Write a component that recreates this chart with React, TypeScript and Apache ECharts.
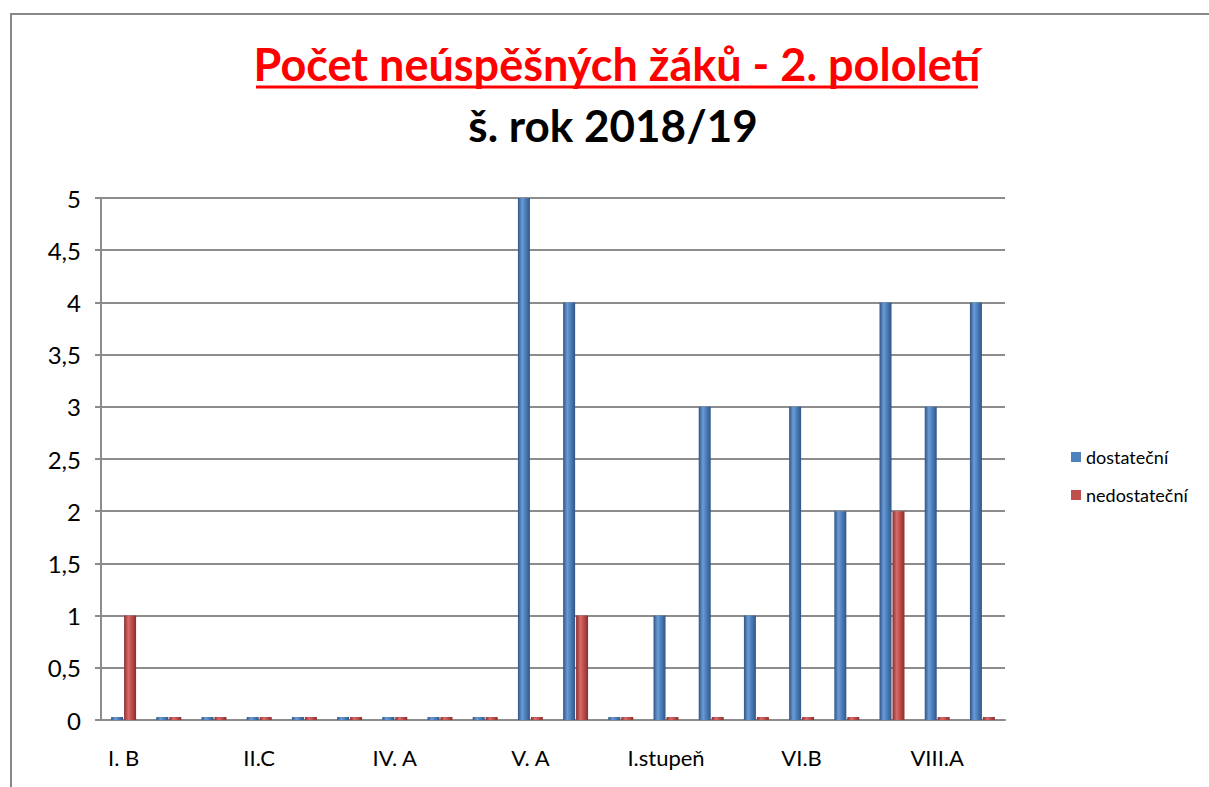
import React, { useEffect, useRef } from "react";
import * as echarts from "echarts";

const categories = [
  "I. B", "II. A", "II. B", "II.C", "III. A", "III. B", "IV. A", "IV. B", "IV. C", "V. A",
  "V. B", "V. C", "I.stupeň", "VI.A", "VI.C", "VI.B", "VII.A", "VII.B", "VIII.A", "VIII.B",
];
const dostatecni = [0, 0, 0, 0, 0, 0, 0, 0, 0, 5, 4, 0, 1, 3, 1, 3, 2, 4, 3, 4];
const nedostatecni = [1, 0, 0, 0, 0, 0, 0, 0, 0, 0, 1, 0, 0, 0, 0, 0, 0, 2, 0, 0];
const titleText = "Počet neúspěšných žáků - 2. pololetí";
const subtitleText = "š. rok 2018/19";

const FONT = "Lato, 'Open Sans', sans-serif";

function cyl(mid: string, dark: string, light: string) {
  return new echarts.graphic.LinearGradient(0, 0, 1, 0, [
    { offset: 0, color: dark },
    { offset: 0.35, color: light },
    { offset: 0.6, color: mid },
    { offset: 1, color: dark },
  ]);
}

export default function App() {
  const ref = useRef<HTMLDivElement>(null);
  useEffect(() => {
    document.body.style.margin = "0";
    const chart = echarts.init(ref.current!, null, { renderer: "svg" });
    chart.setOption({
      animation: false,
      backgroundColor: "#ffffff",
      title: [
        {
          text: titleText,
          left: 612,
          textAlign: "center",
          top: 36,
          textStyle: { color: "#ff0000", fontSize: 45, fontWeight: "bold", fontFamily: FONT },
        },
        {
          text: subtitleText,
          left: 608,
          textAlign: "center",
          top: 98,
          textStyle: { color: "#000000", fontSize: 44, fontWeight: "bold", fontFamily: FONT },
        },
      ],
      graphic: [
        {
          type: "rect",
          shape: { x: 11, y: 14, width: 1300, height: 900 },
          style: { fill: "none", stroke: "#888888", lineWidth: 2 },
          silent: true,
        },
        {
          type: "line",
          shape: { x1: 256, y1: 87, x2: 978, y2: 87 },
          style: { stroke: "#ff0000", lineWidth: 3 },
          silent: true,
        },
      ],
      legend: {
        orient: "vertical",
        left: 1066,
        top: 443,
        itemWidth: 10,
        itemHeight: 10,
        itemGap: 20,
        icon: "rect",
        textStyle: { fontSize: 18, fontFamily: FONT, color: "#000" },
        data: [
          { name: "dostateční", itemStyle: { color: "#4f81bd" } },
          { name: "nedostateční", itemStyle: { color: "#c0504d" } },
        ],
      },
      grid: { left: 101, right: 204, top: 198, bottom: 67 },
      xAxis: {
        type: "category",
        data: categories,
        axisLine: { lineStyle: { color: "#8c8c8c", width: 2 } },
        axisTick: { show: false },
        axisLabel: { interval: 2, fontSize: 22, fontFamily: FONT, color: "#000", margin: 26 },
      },
      yAxis: {
        type: "value",
        min: 0,
        max: 5,
        interval: 0.5,
        axisLine: { show: true, lineStyle: { color: "#8c8c8c", width: 2 } },
        axisTick: { show: true, length: 6, lineStyle: { color: "#8c8c8c", width: 2 } },
        splitLine: { lineStyle: { color: "#8c8c8c", width: 2 } },
        axisLabel: {
          fontSize: 24,
          fontFamily: FONT,
          color: "#000",
          margin: 20,
          formatter: (v: number) => String(v).replace(".", ","),
        },
      },
      series: [
        {
          name: "dostateční",
          type: "bar",
          data: dostatecni,
          barWidth: 12,
          barGap: "8%",
          barMinHeight: 3,
          itemStyle: { color: cyl("#4f81bd", "#2f5587", "#6b9bd6") },
        },
        {
          name: "nedostateční",
          type: "bar",
          data: nedostatecni,
          barWidth: 12,
          barMinHeight: 3,
          itemStyle: { color: cyl("#c0504d", "#8a2f2d", "#d96a67") },
        },
      ],
    });
    return () => chart.dispose();
  }, []);
  return <div ref={ref} style={{ width: 1209, height: 787 }} />;
}
